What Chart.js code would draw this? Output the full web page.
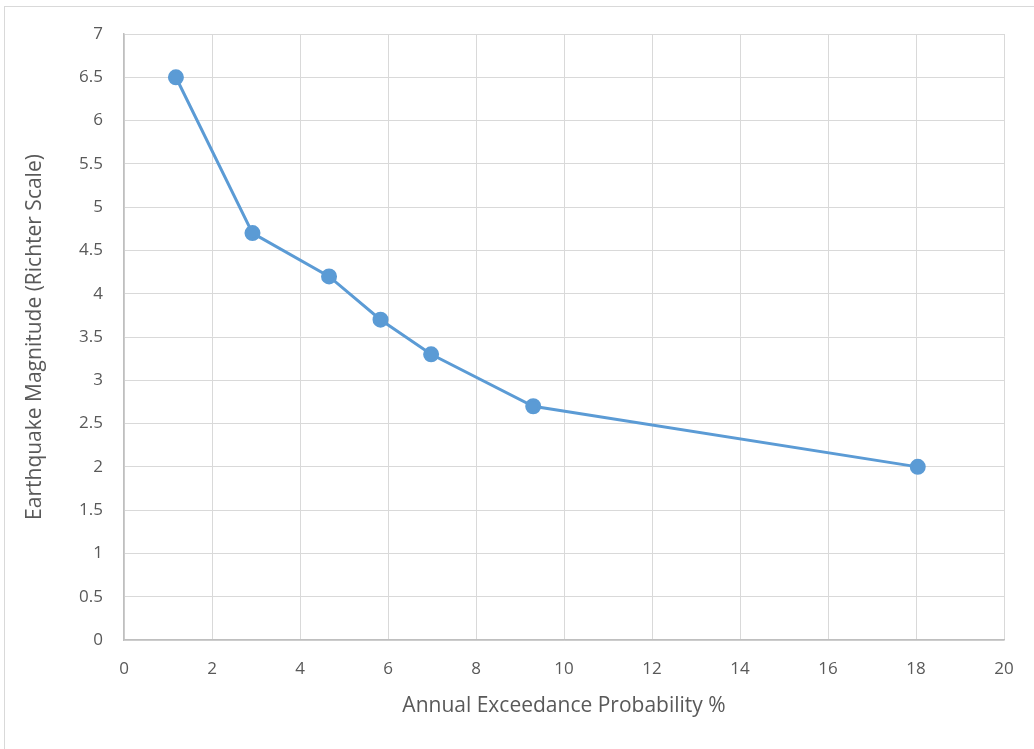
<!DOCTYPE html>
<html>
<head>
<meta charset="utf-8">
<script src="https://cdn.jsdelivr.net/npm/chart.js@4/dist/chart.umd.min.js"></script>
<style>
body { margin: 0; background: #fff; overflow: hidden; }
#wrap { position: absolute; left: 0; top: 0; width: 1034px; height: 749px; }
#cadre { position: absolute; left: 4px; top: 6px; width: 1040px; height: 760px; border: 1px solid #d9d9d9; }
</style>
</head>
<body>
<div id="cadre"></div>
<div id="wrap"><canvas id="graph" width="1034" height="749"></canvas></div>
<script>
// probabilite annuelle de depassement (%) et magnitude
const probabilite = [1.18, 2.92, 4.66, 5.83, 6.98, 9.3, 18.04];
const magnitude = [6.5, 4.7, 4.2, 3.7, 3.3, 2.7, 2.0];
const titreX = "Annual Exceedance Probability %";
const titreY = "Earthquake Magnitude (Richter Scale)";

const points = probabilite.map((p, i) => ({x: p, y: magnitude[i]}));
const police = "'Open Sans', 'Noto Sans', sans-serif";

const graph = document.getElementById('graph');
var graphLigne = new Chart(graph, {
  type: 'scatter',
  data: {
    datasets: [{
      data: points,
      showLine: true,
      borderColor: '#5b9bd5',
      backgroundColor: '#5b9bd5',
      borderWidth: 3,
      pointRadius: 6.5,
      pointHoverRadius: 6.5
    }]
  },
  options: {
    responsive: false,
    animation: false,
    layout: { padding: { top: 34, right: 30, left: 0, bottom: 0 } },
    plugins: {
      legend: { display: false },
      tooltip: { enabled: false }
    },
    scales: {
      x: {
        type: 'linear',
        min: 0,
        max: 20,
        ticks: { stepSize: 2, color: '#595959', padding: 19, font: { family: police, size: 17 } },
        grid: { color: '#d9d9d9', lineWidth: 1, drawTicks: false },
        border: { color: '#bfbfbf', width: 1.5 },
        title: { display: true, text: titreX, color: '#595959', font: { family: police, size: 21 }, padding: { top: 0, bottom: 30 } },
        afterFit: function(scale) { scale.height = 109; }
      },
      y: {
        min: 0,
        max: 7,
        ticks: {
          stepSize: 0.5, color: '#595959', padding: 21, font: { family: police, size: 17 },
          callback: function(v) { return String(v); }
        },
        grid: { color: '#d9d9d9', lineWidth: 1, drawTicks: false },
        border: { color: '#bfbfbf', width: 1.5 },
        title: { display: true, text: titreY, color: '#595959', font: { family: police, size: 21 }, padding: { top: 22, bottom: 0 } },
        afterFit: function(scale) { scale.width = 124; }
      }
    }
  }
});
</script>
</body>
</html>
